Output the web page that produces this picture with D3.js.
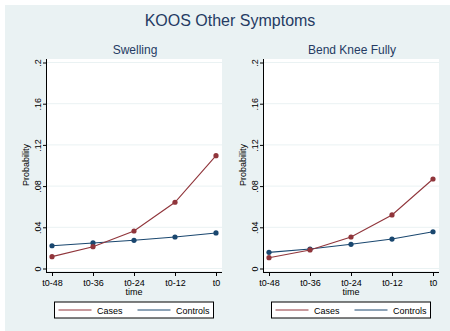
<!DOCTYPE html>
<html>
<head>
<meta charset="utf-8">
<script src="https://cdn.jsdelivr.net/npm/d3@7"></script>
<style>
  body { margin: 0; background: #fff; }
  svg { display: block; font-family: "Liberation Sans", Arial, sans-serif; }
</style>
</head>
<body>
<div id="chart"></div>
<script>
var width = 450, height = 331;

const times = ["t0-48", "t0-36", "t0-24", "t0-12", "t0"];
const yTicks = [0, .04, .08, .12, .16, .2];
const panelTitles = ["Swelling", "Bend Knee Fully"];
// probability per time point
const swellingCases = [0.0115, 0.0212, 0.0364, 0.0643, 0.1095];
const swellingControls = [0.0221, 0.0248, 0.0274, 0.0306, 0.0345];
const bendCases = [0.0105, 0.018, 0.0306, 0.052, 0.0869];
const bendControls = [0.0157, 0.0189, 0.0235, 0.0286, 0.0357];

const navy = "#1a476f", maroon = "#90353b", bg = "#eaf2f3";

const panels = [
  {title: panelTitles[0], cases: swellingCases, controls: swellingControls, left: 47},
  {title: panelTitles[1], cases: bendCases, controls: bendControls, left: 264}
];

const svg = d3.select("#chart").append("svg")
  .attr("width", width)
  .attr("height", height);

svg.append("rect")
  .attr("x", 5).attr("y", 5)
  .attr("width", width - 5).attr("height", height - 5)
  .attr("fill", bg);

svg.append("text")
  .attr("x", 230).attr("y", 26)
  .attr("text-anchor", "middle")
  .attr("font-size", "16px")
  .attr("fill", "#253b63")
  .text("KOOS Other Symptoms");

const plotW = 175, plotTop = 59, plotBottom = 272;

const y = d3.scaleLinear().domain([0, .2]).range([268.5, 62.5]);
const x = d3.scalePoint().domain(times).range([5, 169]);

function fmt(d) {
  return d === 0 ? "0" : d3.format(".2~f")(d).replace(/^0/, "");
}

panels.forEach(p => {
  const g = svg.append("g").attr("transform", `translate(${p.left},0)`);

  g.append("rect")
    .attr("x", 0).attr("y", plotTop)
    .attr("width", plotW).attr("height", plotBottom - plotTop - 1)
    .attr("fill", "#fff");

  // gridlines
  g.selectAll(".grid").data(yTicks).enter().append("line")
    .attr("x1", 0).attr("x2", plotW)
    .attr("y1", d => y(d)).attr("y2", d => y(d))
    .attr("stroke", bg).attr("stroke-width", 1);

  g.append("text")
    .attr("x", plotW / 2 + 0.5).attr("y", 54)
    .attr("text-anchor", "middle")
    .attr("font-size", "12px")
    .attr("fill", "#253b63")
    .text(p.title);

  // y axis
  const yAxis = g.append("g")
    .call(d3.axisLeft(y).tickValues(yTicks).tickFormat(fmt).tickSize(4).tickSizeOuter(0));
  yAxis.select(".domain").remove();
  yAxis.selectAll(".tick line").attr("stroke", "#000");
  yAxis.selectAll(".tick text")
    .attr("x", 0).attr("y", -6).attr("dy", null)
    .attr("text-anchor", "middle")
    .attr("transform", "rotate(-90)")
    .attr("font-size", "9px")
    .attr("font-family", "Liberation Sans, Arial, sans-serif")
    .attr("fill", "#000");
  g.append("line")
    .attr("x1", -0.5).attr("x2", -0.5)
    .attr("y1", plotTop).attr("y2", plotBottom + 0.5)
    .attr("stroke", "#000");

  g.append("text")
    .attr("transform", `translate(-18,165) rotate(-90)`)
    .attr("text-anchor", "middle")
    .attr("font-size", "9px")
    .attr("fill", "#000")
    .text("Probability");

  // x axis
  const xAxis = g.append("g")
    .attr("transform", `translate(0,${plotBottom})`)
    .call(d3.axisBottom(x).tickSize(4).tickSizeOuter(0));
  xAxis.select(".domain").remove();
  xAxis.selectAll(".tick line").attr("stroke", "#000");
  xAxis.selectAll(".tick text")
    .attr("y", 14).attr("dy", null)
    .attr("font-size", "9px")
    .attr("font-family", "Liberation Sans, Arial, sans-serif")
    .attr("fill", "#000");
  g.append("line")
    .attr("x1", -1).attr("x2", plotW)
    .attr("y1", plotBottom + 0.5).attr("y2", plotBottom + 0.5)
    .attr("stroke", "#000");

  g.append("text")
    .attr("x", x("t0-24")).attr("y", 295)
    .attr("text-anchor", "middle")
    .attr("font-size", "9px")
    .attr("fill", "#000")
    .text("time");

  // series
  const line = d3.line().x((d, i) => x(times[i])).y(d => y(d));
  [[p.controls, navy], [p.cases, maroon]].forEach(([vals, col]) => {
    g.append("path")
      .attr("d", line(vals))
      .attr("fill", "none")
      .attr("stroke", col)
      .attr("stroke-width", 1.1);
    g.selectAll(null).data(vals).enter().append("circle")
      .attr("cx", (d, i) => x(times[i]))
      .attr("cy", d => y(d))
      .attr("r", 2.6)
      .attr("fill", col);
  });

  // legend
  const lg = g.append("g").attr("transform", "translate(7.5,302)");
  lg.append("rect")
    .attr("width", 159).attr("height", 16)
    .attr("fill", "#fff").attr("stroke", "#000");
  [["Cases", maroon, 4], ["Controls", navy, 83]].forEach(([name, col, off]) => {
    lg.append("line")
      .attr("x1", off).attr("x2", off + 33)
      .attr("y1", 8).attr("y2", 8)
      .attr("stroke", col).attr("stroke-width", 1);
    lg.append("text")
      .attr("x", off + 38.5).attr("y", 11.5)
      .attr("font-size", "9px")
      .attr("fill", "#000")
      .text(name);
  });
});
</script>
</body>
</html>
